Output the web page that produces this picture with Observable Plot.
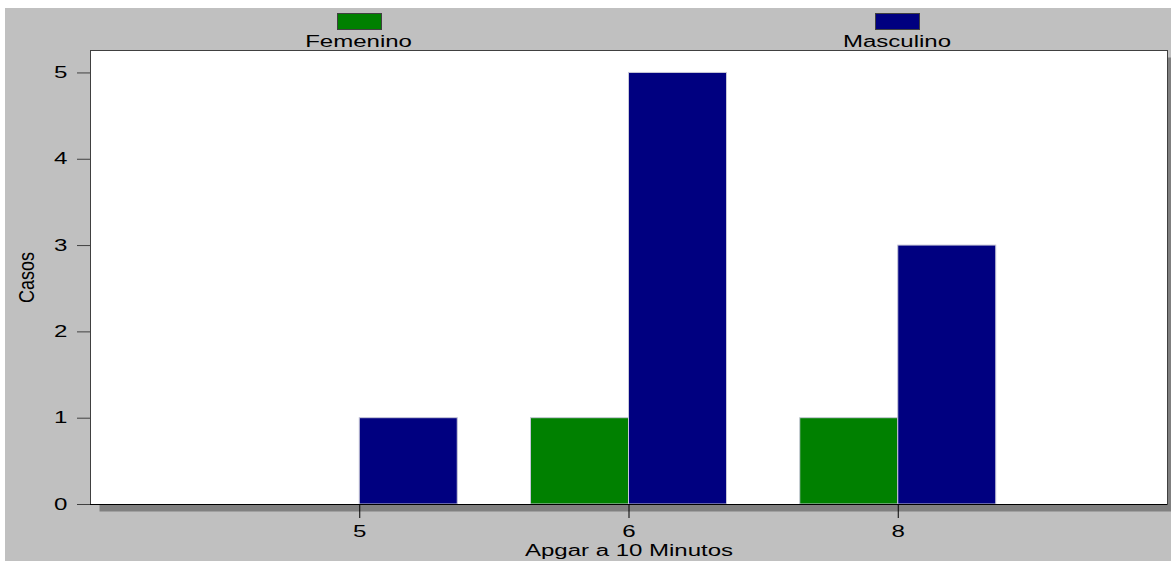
<!DOCTYPE html>
<html>
<head>
<meta charset="utf-8">
<script src="https://cdn.jsdelivr.net/npm/d3@7"></script>
<script src="https://cdn.jsdelivr.net/npm/@observablehq/plot@0.6"></script>
<style>
  html, body { margin: 0; padding: 0; background: #fff; }
  #bg { position: absolute; left: 5px; top: 8px; width: 1166px; height: 553px; background: #c0c0c0; }
  #legend { position: absolute; left: 0; top: 0; width: 1166px; height: 40px; font-family: "Liberation Sans", Arial, sans-serif; font-size: 16px; color: #000; }
  .item { position: absolute; top: 5px; width: 200px; text-align: center; }
  .sw { display: block; margin: 0 auto; width: 45px; height: 17px; border: 1px solid #404040; box-sizing: border-box; }
  .lab { display: inline-block; margin-top: 3px; line-height: 18px; transform: scaleX(1.5); transform-origin: center; }
  #chart { position: absolute; left: 0; top: 40px; }
</style>
</head>
<body>
<div id="bg">
  <div id="legend"></div>
  <div id="chart"></div>
</div>
<script>
// Data
const categories = ["5", "6", "8"];
const femenino = [0, 1, 1];
const masculino = [1, 5, 3];
const yTicks = [0, 1, 2, 3, 4, 5];
const seriesNames = ["Femenino", "Masculino"];
const seriesColors = ["#008000", "#000080"];

const barW = 0.364; // bar width in category units

const rows = categories.flatMap((c, i) => [
  {cat: c, pos: i + 1, sex: "Femenino", value: femenino[i]},
  {cat: c, pos: i + 1, sex: "Masculino", value: masculino[i]}
]).filter(d => d.value > 0);

const plot = Plot.plot({
  width: 1166,
  height: 513,
  marginLeft: 85,
  marginRight: 4,
  marginTop: 2,
  marginBottom: 57,
  style: {fontFamily: "'Liberation Sans', Arial, sans-serif", fontSize: "16px", background: "transparent", color: "#000", overflow: "visible"},
  x: {type: "linear", domain: [0, categories.length + 1]},
  y: {domain: [0, 5.26]},
  color: {domain: seriesNames, range: seriesColors},
  marks: [
    Plot.frame({fill: "#808080", dx: 9, dy: 7}),
    Plot.frame({fill: "white"}),
    Plot.rect(rows, {
      x1: d => d.sex === "Femenino" ? d.pos - barW : d.pos,
      x2: d => d.sex === "Femenino" ? d.pos : d.pos + barW,
      y1: 0,
      y2: "value",
      fill: "sex",
      stroke: "#c8c8d8",
      strokeWidth: 1
    }),
    Plot.frame({stroke: "#404040"}),
    Plot.ruleY([0], {stroke: "#000"}),
    Plot.axisY({
      ticks: yTicks,
      tickFormat: d3.format("d"),
      tickSize: 13,
      tickPadding: 10,
      stroke: "#404040",
      label: "Casos",
      labelAnchor: "center",
      labelArrow: "none",
      labelOffset: 72
    }),
    Plot.axisX({
      ticks: categories.map((c, i) => i + 1),
      tickFormat: v => categories[v - 1],
      tickSize: 14,
      tickPadding: 7,
      stroke: "#000",
      label: "Apgar a 10 Minutos",
      labelAnchor: "center",
      labelArrow: "none",
      labelOffset: 51
    })
  ]
});
document.getElementById("chart").appendChild(plot);

// Horizontal stretch of the glyphs, as in the original raster
const stretch = 1.5;
plot.querySelectorAll('[aria-label="x-axis tick label"] text, [aria-label="y-axis tick label"] text, [aria-label="x-axis label"] text').forEach(t => {
  const w = t.getComputedTextLength();
  t.setAttribute("textLength", (w * stretch).toFixed(1));
  t.setAttribute("lengthAdjust", "spacingAndGlyphs");
});
plot.querySelectorAll('[aria-label="y-axis label"] text').forEach(t => {
  const w = t.getComputedTextLength();
  t.setAttribute("textLength", (w * 1.12).toFixed(1));
  t.setAttribute("lengthAdjust", "spacingAndGlyphs");
  const tr = t.getAttribute("transform") || "";
  t.setAttribute("transform", tr + " scale(1,1.35)");
});

// Legend
const legendCenters = [359, 897];
const legend = document.getElementById("legend");
seriesNames.forEach((name, i) => {
  const item = document.createElement("div");
  item.className = "item";
  item.style.left = (legendCenters[i] - 5 - 100) + "px";
  const sw = document.createElement("span");
  sw.className = "sw";
  sw.style.background = seriesColors[i];
  const lab = document.createElement("span");
  lab.className = "lab";
  lab.textContent = name;
  item.appendChild(sw);
  item.appendChild(lab);
  legend.appendChild(item);
});
</script>
</body>
</html>
